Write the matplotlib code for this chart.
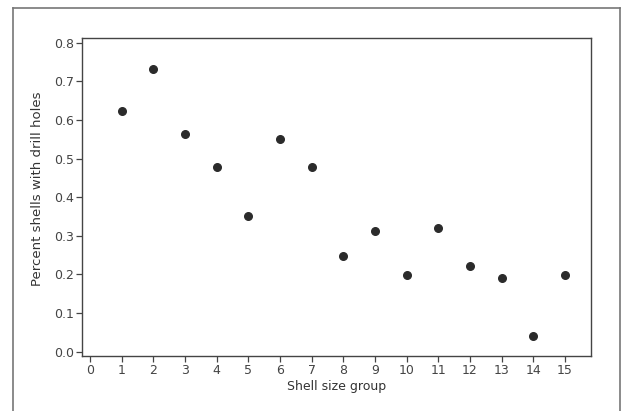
import matplotlib
matplotlib.use("Agg")
import matplotlib.pyplot as plt
from matplotlib.lines import Line2D

size_group = [1, 2, 3, 4, 5, 6, 7, 8, 9, 10, 11, 12, 13, 14, 15]
pct_drilled = [0.624, 0.733, 0.564, 0.478, 0.352, 0.550, 0.478, 0.248,
               0.313, 0.199, 0.319, 0.221, 0.191, 0.041, 0.199]

x_ticks = list(range(0, 16))
y_ticks = [0.0, 0.1, 0.2, 0.3, 0.4, 0.5, 0.6, 0.7, 0.8]

W, H = 621, 411
fig = plt.figure(figsize=(W / 100, H / 100), dpi=100)
fig.patch.set_facecolor("white")

# outer frame (open at the bottom)
frame_color = "#777777"
fig.add_artist(Line2D([13 / W, 13 / W], [0, 1 - 8 / H], color=frame_color, lw=1.2))
fig.add_artist(Line2D([13 / W, 620 / W], [1 - 8 / H, 1 - 8 / H], color=frame_color, lw=1.2))
fig.add_artist(Line2D([620 / W, 620 / W], [0, 1 - 8 / H], color=frame_color, lw=1.2))

ax = fig.add_axes([82 / W, 1 - 356 / H, (591 - 82) / W, (356 - 38) / H])
ax.scatter(size_group, pct_drilled, s=30, color="#2b2b2b", zorder=3)

ax.set_xlim(-0.25, 15.82)
ax.set_ylim(-0.011, 0.812)
ax.set_xticks(x_ticks)
ax.set_yticks(y_ticks)
ax.set_yticklabels([f"{v:.1f}" for v in y_ticks])

for s in ax.spines.values():
    s.set_color("#444444")
    s.set_linewidth(1.0)

ax.tick_params(axis="both", direction="out", length=4, width=0.9,
               color="#444444", labelcolor="#444444", labelsize=9, pad=2)

ax.set_xlabel("Shell size group", fontsize=9, color="#333333", labelpad=2)
ax.set_ylabel("Percent shells with drill holes", fontsize=9.5, color="#333333")
ax.yaxis.set_label_coords(-0.075, 0.525)

fig.savefig("out.png", dpi=100)
